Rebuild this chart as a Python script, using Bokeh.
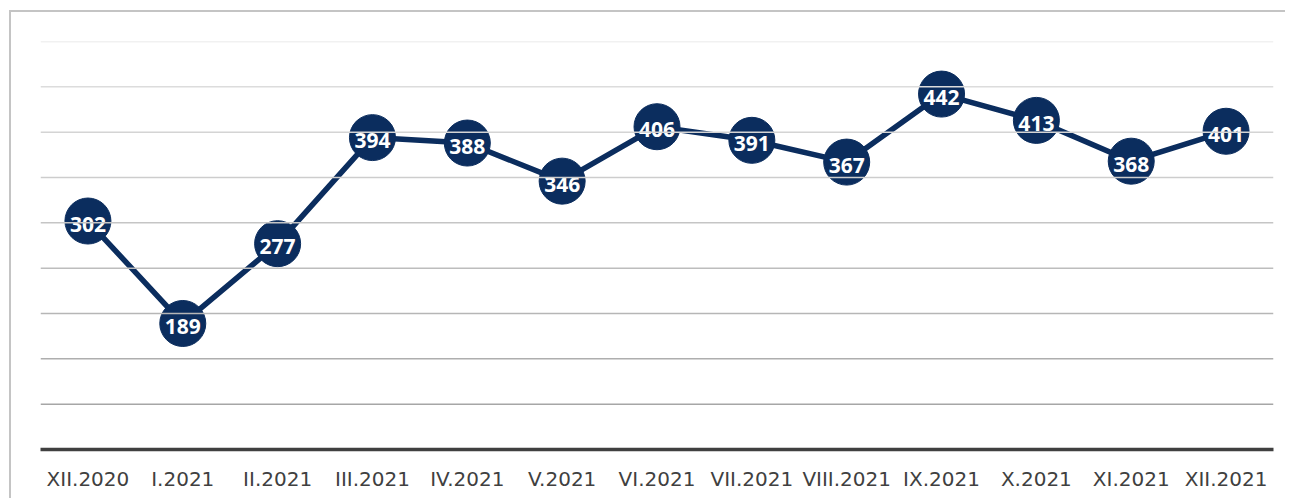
from bokeh.plotting import figure
from bokeh.models import ColumnDataSource, Span, FactorRange, Range1d
from bokeh.core.properties import value
from bokeh.embed import file_html
from bokeh.resources import INLINE

months = ["XII.2020", "I.2021", "II.2021", "III.2021", "IV.2021", "V.2021", "VI.2021",
          "VII.2021", "VIII.2021", "IX.2021", "X.2021", "XI.2021", "XII.2021"]
counts = [302, 189, 277, 394, 388, 346, 406, 391, 367, 442, 413, 368, 401]
grid_levels = [100, 150, 200, 250, 300, 350, 400, 450, 500]

NAVY = "#0b2d5e"

src = ColumnDataSource(dict(m=months, v=counts, t=[str(c) for c in counts]))

p = figure(x_range=FactorRange(*months, range_padding=0), y_range=Range1d(50, 500),
           width=1276, height=488, output_backend="svg", toolbar_location=None,
           min_border_left=29, min_border_right=14, min_border_top=29, min_border_bottom=51)
p.outline_line_color = None
p.background_fill_color = "white"
p.border_fill_color = "white"
p.xgrid.visible = False
p.ygrid.visible = False
p.yaxis.visible = False
p.styles = {"margin": "10px 0px 0px 9px",
            "border-left": "2px solid #c4c4c4", "border-top": "2px solid #c4c4c4"}

# gradient gridlines (lighter toward the top)
lo = (0xa6, 0xa6, 0xa6)
hi = (0xe4, 0xe4, 0xe4)
n = len(grid_levels)
for i, lv in enumerate(grid_levels):
    f = i / (n - 1)
    c = tuple(int(round(lo[k] + (hi[k] - lo[k]) * f)) for k in range(3))
    p.add_layout(Span(location=lv, dimension="width", line_color="#%02x%02x%02x" % c, line_width=1.5))

ax = p.xaxis[0]
ax.axis_line_color = "#404040"
ax.axis_line_width = 3.5
ax.major_tick_line_color = None
ax.minor_tick_line_color = None
ax.major_label_text_font = "DejaVu Sans"
ax.major_label_text_font_size = "20px"
ax.major_label_text_color = "#404040"
ax.major_label_standoff = 11

p.line("m", "v", source=src, line_color=NAVY, line_width=5.5)
p.scatter("m", "v", source=src, size=46, fill_color=NAVY, line_color=NAVY)
p.text("m", "v", text="t", source=src, text_color="white", text_font=value("Open Sans"),
       text_font_style="bold", text_font_size="21px", text_align="center",
       text_baseline="middle", y_offset=3)

open("out.html", "w").write(file_html(p, INLINE))
